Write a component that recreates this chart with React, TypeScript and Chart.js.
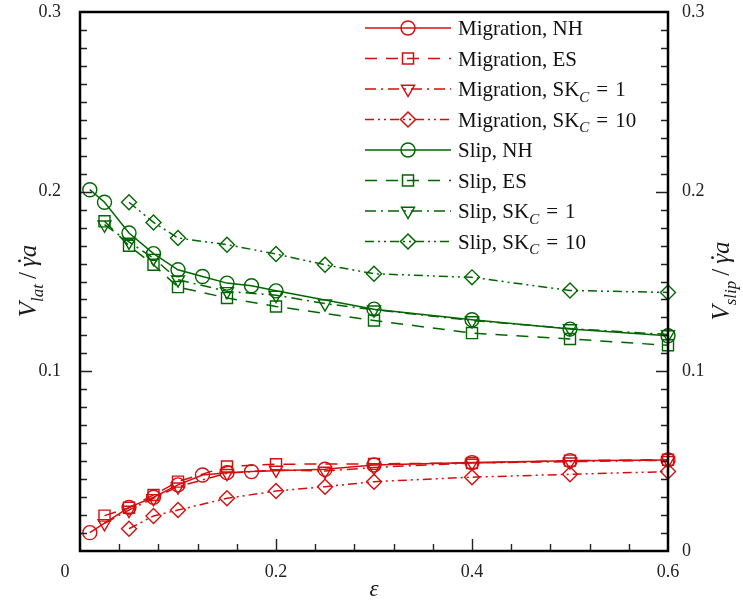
import React, { useEffect, useRef } from 'react';
import { Chart, registerables } from 'chart.js';

Chart.register(...registerables);

const RED = 'rgb(212,14,14)';
const GREEN = 'rgb(0,102,0)';
const FAM = '"Liberation Serif", "Times New Roman", Times, serif';

// x values (epsilon) and y values per series
const migNhEps = [0.01, 0.05, 0.075, 0.1, 0.125, 0.15, 0.175, 0.25, 0.3, 0.4, 0.5, 0.6];
const migNhVal = [0.0102, 0.0243, 0.0299, 0.0368, 0.0423, 0.0436, 0.0442, 0.0455, 0.0479, 0.0492, 0.0503, 0.0507];

const migEsEps = [0.025, 0.05, 0.075, 0.1, 0.15, 0.2, 0.3, 0.4, 0.5, 0.6];
const migEsVal = [0.0197, 0.0241, 0.0312, 0.0386, 0.047, 0.0483, 0.0485, 0.049, 0.0503, 0.0508];

const migSk1Eps = [0.025, 0.05, 0.075, 0.1, 0.15, 0.2, 0.25, 0.3, 0.4, 0.5, 0.6];
const migSk1Val = [0.0154, 0.0228, 0.0293, 0.0358, 0.0433, 0.0451, 0.0445, 0.0465, 0.049, 0.0497, 0.0505];

const migSk10Eps = [0.05, 0.075, 0.1, 0.15, 0.2, 0.25, 0.3, 0.4, 0.5, 0.6];
const migSk10Val = [0.0124, 0.0195, 0.0228, 0.0293, 0.0334, 0.0358, 0.0386, 0.0411, 0.0427, 0.0442];

const slipNhEps = [0.01, 0.025, 0.05, 0.075, 0.1, 0.125, 0.15, 0.175, 0.2, 0.3, 0.4, 0.5, 0.6];
const slipNhVal = [0.2011, 0.1941, 0.177, 0.1655, 0.1565, 0.1528, 0.1491, 0.1476, 0.1448, 0.1346, 0.1287, 0.1235, 0.1198];

const slipEsEps = [0.025, 0.05, 0.075, 0.1, 0.15, 0.2, 0.3, 0.4, 0.5, 0.6];
const slipEsVal = [0.1835, 0.1699, 0.1593, 0.1469, 0.1408, 0.1361, 0.1283, 0.1213, 0.118, 0.1145];

const slipSk1Eps = [0.025, 0.05, 0.075, 0.1, 0.15, 0.2, 0.25, 0.3, 0.4, 0.5, 0.6];
const slipSk1Val = [0.1816, 0.172, 0.163, 0.151, 0.1445, 0.1424, 0.1377, 0.1343, 0.1283, 0.1238, 0.1205];

const slipSk10Eps = [0.05, 0.075, 0.1, 0.15, 0.2, 0.25, 0.3, 0.4, 0.5, 0.6];
const slipSk10Val = [0.1941, 0.1829, 0.1742, 0.1705, 0.1653, 0.1593, 0.1543, 0.1523, 0.145, 0.1439];

const xTickValues = [0, 0.2, 0.4, 0.6];
const yTickValues = [0, 0.1, 0.2, 0.3];

type Seg = { t: string; it?: boolean; sub?: boolean; dot?: boolean };

const EQ1: Seg[] = [{ t: '\u2004=\u20041' }];
const EQ10: Seg[] = [{ t: '\u2004=\u200410' }];

const legendRows: { label: Seg[]; color: string; dash: number[]; marker: string }[] = [
  { label: [{ t: 'Migration, NH' }], color: RED, dash: [], marker: 'circle' },
  { label: [{ t: 'Migration, ES' }], color: RED, dash: [12, 9], marker: 'rect' },
  { label: [{ t: 'Migration, SK' }, { t: 'C', it: true, sub: true }, ...EQ1], color: RED, dash: [11, 5, 2, 5], marker: 'tri' },
  { label: [{ t: 'Migration, SK' }, { t: 'C', it: true, sub: true }, ...EQ10], color: RED, dash: [9, 4, 2, 4, 2, 4], marker: 'diamond' },
  { label: [{ t: 'Slip, NH' }], color: GREEN, dash: [], marker: 'circle' },
  { label: [{ t: 'Slip, ES' }], color: GREEN, dash: [12, 9], marker: 'rect' },
  { label: [{ t: 'Slip, SK' }, { t: 'C', it: true, sub: true }, ...EQ1], color: GREEN, dash: [11, 5, 2, 5], marker: 'tri' },
  { label: [{ t: 'Slip, SK' }, { t: 'C', it: true, sub: true }, ...EQ10], color: GREEN, dash: [9, 4, 2, 4, 2, 4], marker: 'diamond' },
];

function drawRich(ctx: CanvasRenderingContext2D, segs: Seg[], x: number, y: number, size: number, align: 'left' | 'center', subScale = 0.72) {
  const fontFor = (s: Seg) => `${s.it ? 'italic ' : ''}${s.sub ? Math.round(size * subScale) : size}px ${FAM}`;
  const widths = segs.map((s) => {
    ctx.font = fontFor(s);
    return ctx.measureText(s.t).width;
  });
  const total = widths.reduce((a, b) => a + b, 0);
  let cx = align === 'center' ? x - total / 2 : x;
  ctx.textAlign = 'left';
  ctx.textBaseline = 'alphabetic';
  segs.forEach((s, i) => {
    ctx.font = fontFor(s);
    ctx.fillText(s.t, cx, y + (s.sub ? size * 0.28 : 0));
    if (s.dot) {
      ctx.beginPath();
      ctx.arc(cx + widths[i] * 0.62, y - size * 0.66, size * 0.055, 0, Math.PI * 2);
      ctx.fill();
    }
    cx += widths[i];
  });
}

function drawMarker(ctx: CanvasRenderingContext2D, kind: string, x: number, y: number) {
  ctx.beginPath();
  if (kind === 'circle') {
    ctx.arc(x, y, 7, 0, Math.PI * 2);
  } else if (kind === 'rect') {
    const s = 5.5;
    ctx.rect(x - s, y - s, 2 * s, 2 * s);
  } else if (kind === 'tri') {
    const r = 7.5;
    ctx.moveTo(x, y + r);
    ctx.lineTo(x - r * 0.866, y - r * 0.5);
    ctx.lineTo(x + r * 0.866, y - r * 0.5);
    ctx.closePath();
  } else {
    const r = 7.5;
    ctx.moveTo(x, y - r);
    ctx.lineTo(x + r, y);
    ctx.lineTo(x, y + r);
    ctx.lineTo(x - r, y);
    ctx.closePath();
  }
  ctx.stroke();
}

const decorPlugin = {
  id: 'decor',
  afterDraw(chart: any) {
    const ctx: CanvasRenderingContext2D = chart.ctx;
    const { left, right, top, bottom } = chart.chartArea;
    const xs = chart.scales.x;
    const ys = chart.scales.y;
    ctx.save();

    // tick marks (inward)
    ctx.strokeStyle = '#222';
    ctx.lineWidth = 1.4;
    ctx.setLineDash([]);
    for (let i = 1; i < 15; i++) {
      const v = i * 0.04;
      const px = Math.round(xs.getPixelForValue(v)) + 0.5;
      const len = i % 5 === 0 ? 12 : 7;
      ctx.beginPath();
      ctx.moveTo(px, bottom);
      ctx.lineTo(px, bottom - len);
      ctx.stroke();
    }
    for (let i = 1; i < 30; i++) {
      const v = i * 0.01;
      const py = Math.round(ys.getPixelForValue(v)) + 0.5;
      const len = i % 10 === 0 ? 12 : 7;
      ctx.beginPath();
      ctx.moveTo(left, py);
      ctx.lineTo(left + len, py);
      ctx.moveTo(right, py);
      ctx.lineTo(right - len, py);
      ctx.stroke();
    }

    // frame
    ctx.strokeStyle = '#000';
    ctx.lineWidth = 2.5;
    ctx.strokeRect(left, top, right - left, bottom - top);

    // x "0" label shifted left as in the original
    ctx.fillStyle = '#222';
    ctx.font = `18px ${FAM}`;
    ctx.textAlign = 'center';
    ctx.textBaseline = 'middle';
    ctx.fillText('0', xs.getPixelForValue(0) - 15, bottom + 21);

    // legend
    legendRows.forEach((row, i) => {
      const y = 28 + i * 30.5;
      ctx.strokeStyle = row.color;
      ctx.lineWidth = 1.7;
      ctx.setLineDash(row.dash);
      ctx.beginPath();
      ctx.moveTo(365, y);
      ctx.lineTo(451, y);
      ctx.stroke();
      ctx.setLineDash([]);
      ctx.lineWidth = 1.5;
      drawMarker(ctx, row.marker, 408, y);
      ctx.fillStyle = '#111';
      drawRich(ctx, row.label, 458, y + 7, 21, 'left', 0.72);
    });

    // axis titles
    ctx.fillStyle = '#1a1a1a';
    const midY = 281;
    const leftTitle: Seg[] = [
      { t: 'V', it: true },
      { t: 'lat', it: true, sub: true },
      { t: '\u2009/\u2009' },
      { t: 'γ', it: true, dot: true },
      { t: 'a', it: true },
    ];
    const rightTitle: Seg[] = [
      { t: 'V', it: true },
      { t: 'slip', it: true, sub: true },
      { t: '\u2009/\u2009' },
      { t: 'γ', it: true, dot: true },
      { t: 'a', it: true },
    ];
    ctx.save();
    ctx.translate(36, midY);
    ctx.rotate(-Math.PI / 2);
    drawRich(ctx, leftTitle, 0, 0, 25, 'center', 0.68);
    ctx.restore();
    ctx.save();
    ctx.translate(729, midY);
    ctx.rotate(-Math.PI / 2);
    drawRich(ctx, rightTitle, 0, 0, 25, 'center', 0.68);
    ctx.restore();

    ctx.font = `italic 23px ${FAM}`;
    ctx.textAlign = 'center';
    ctx.textBaseline = 'alphabetic';
    ctx.fillText('ε', (left + right) / 2, 596);

    ctx.restore();
  },
};

function series(label: string, eps: number[], vals: number[], color: string, dash: number[], style: string, rot: number, radius: number) {
  return {
    label,
    data: eps.map((e, i) => ({ x: e, y: vals[i] })),
    borderColor: color,
    borderWidth: 1.5,
    borderDash: dash,
    pointStyle: style,
    pointRotation: rot,
    pointRadius: radius,
    pointBorderWidth: 1.4,
    pointBorderColor: color,
    pointBackgroundColor: 'rgba(0,0,0,0)',
    fill: false,
    tension: 0,
    clip: false,
    yAxisID: 'y',
  };
}

export default function App() {
  const ref = useRef<HTMLCanvasElement>(null);
  useEffect(() => {
    if (!ref.current) return;
    const tickFont = { family: FAM, size: 18 };
    const noPadY = (w: number) => (s: any) => {
      s.width = w;
      s.paddingTop = 0;
      s.paddingBottom = 0;
    };
    const chart = new Chart(ref.current, {
      type: 'line',
      data: {
        datasets: [
          series('Migration, NH', migNhEps, migNhVal, RED, [], 'circle', 0, 7),
          series('Migration, ES', migEsEps, migEsVal, RED, [12, 9], 'rect', 0, 7.8),
          series('Migration, SK_C = 1', migSk1Eps, migSk1Val, RED, [11, 5, 2, 5], 'triangle', 180, 7.5),
          series('Migration, SK_C = 10', migSk10Eps, migSk10Val, RED, [9, 4, 2, 4, 2, 4], 'rectRot', 0, 7.5),
          series('Slip, NH', slipNhEps, slipNhVal, GREEN, [], 'circle', 0, 7),
          series('Slip, ES', slipEsEps, slipEsVal, GREEN, [12, 9], 'rect', 0, 7.8),
          series('Slip, SK_C = 1', slipSk1Eps, slipSk1Val, GREEN, [11, 5, 2, 5], 'triangle', 180, 7.5),
          series('Slip, SK_C = 10', slipSk10Eps, slipSk10Val, GREEN, [9, 4, 2, 4, 2, 4], 'rectRot', 0, 7.5),
        ] as any,
      },
      options: {
        animation: false,
        responsive: false,
        devicePixelRatio: 1,
        layout: { padding: { top: 12, left: 0, right: 0, bottom: 0 } },
        plugins: { legend: { display: false }, tooltip: { enabled: false } },
        scales: {
          x: {
            type: 'linear',
            min: 0,
            max: 0.6,
            grid: { display: false, drawTicks: false },
            border: { display: false },
            afterBuildTicks: (s: any) => {
              s.ticks = xTickValues.map((v) => ({ value: v }));
            },
            afterFit: (s: any) => {
              s.height = 53;
              s.paddingLeft = 0;
              s.paddingRight = 0;
            },
            ticks: {
              padding: 10,
              font: tickFont,
              color: '#222',
              maxRotation: 0,
              callback: (v: any) => (v === 0 ? '' : String(+Number(v).toFixed(1))),
            },
          },
          y: {
            type: 'linear',
            position: 'left',
            min: 0,
            max: 0.3,
            grid: { display: false, drawTicks: false },
            border: { display: false },
            afterBuildTicks: (s: any) => {
              s.ticks = yTickValues.map((v) => ({ value: v }));
            },
            afterFit: noPadY(80),
            ticks: {
              padding: 19,
              font: tickFont,
              color: '#222',
              callback: (v: any) => (v === 0 ? '' : String(+Number(v).toFixed(1))),
            },
          },
          y2: {
            type: 'linear',
            position: 'right',
            min: 0,
            max: 0.3,
            grid: { display: false, drawTicks: false },
            border: { display: false },
            afterBuildTicks: (s: any) => {
              s.ticks = yTickValues.map((v) => ({ value: v }));
            },
            afterFit: noPadY(75),
            ticks: {
              padding: 14,
              font: tickFont,
              color: '#222',
              callback: (v: any) => String(+Number(v).toFixed(1)),
            },
          },
        },
      } as any,
      plugins: [decorPlugin],
    });
    return () => chart.destroy();
  }, []);
  return (
    <div style={{ position: 'absolute', left: 0, top: 0, width: 743, height: 604, background: '#fff' }}>
      <canvas ref={ref} width={743} height={604} style={{ display: 'block' }} />
    </div>
  );
}
